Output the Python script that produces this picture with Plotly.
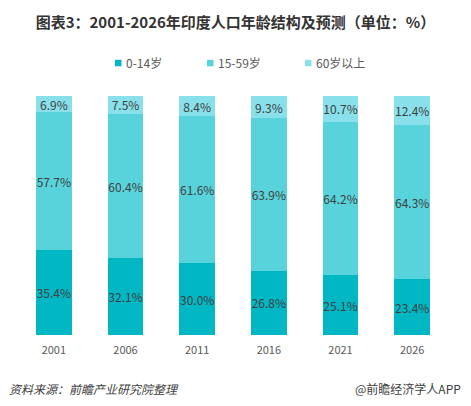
import plotly.graph_objects as go

years = ["2001", "2006", "2011", "2016", "2021", "2026"]
age_0_14 = [35.4, 32.1, 30.0, 26.8, 25.1, 23.4]
age_15_59 = [57.7, 60.4, 61.6, 63.9, 64.2, 64.3]
age_60_plus = [6.9, 7.5, 8.4, 9.3, 10.7, 12.4]
series_names = ["0-14岁", "15-59岁", "60岁以上"]
series_colors = ["#00B7C3", "#58D3DB", "#88E1EA"]

W, H = 471, 406
L, R, T, B = 18, 23, 96, 71
PW, PH = W - L - R, H - T - B

def px(x):
    return (x - L) / PW

def py(y):
    return (H - B - y) / PH

FONT = "Noto Sans CJK SC"

fig = go.Figure()
for name, vals, col in zip(series_names, [age_0_14, age_15_59, age_60_plus], series_colors):
    fig.add_trace(go.Bar(
        x=years, y=vals, name=name, marker=dict(color=col, line=dict(width=0)),
        text=[f"{v:.1f}%" for v in vals], textposition="inside",
        insidetextanchor="middle", textangle=0, constraintext="none",
        textfont=dict(family=FONT, size=12, color="#404040"),
        showlegend=False,
    ))

shapes = []
annotations = []
legend_x = [115, 207, 305]
for lx, name, col in zip(legend_x, series_names, series_colors):
    shapes.append(dict(type="rect", xref="paper", yref="paper",
                       x0=px(lx), x1=px(lx + 6.5), y0=py(66.3), y1=py(59.8),
                       fillcolor=col, line=dict(width=0)))
    annotations.append(dict(text=name, xref="paper", yref="paper",
                            x=px(lx + 8.5), y=py(63), xanchor="left", yanchor="middle",
                            showarrow=False, font=dict(family=FONT, size=12, color="#595959")))

annotations.append(dict(text="<i>资料来源：前瞻产业研究院整理</i>", xref="paper", yref="paper",
                        x=px(7), y=py(388), xanchor="left", yanchor="middle", showarrow=False,
                        font=dict(family=FONT, size=12, color="#404040")))
annotations.append(dict(text="@前瞻经济学人APP", xref="paper", yref="paper",
                        x=px(463), y=py(388), xanchor="right", yanchor="middle", showarrow=False,
                        font=dict(family=FONT, size=12, color="#404040")))

fig.update_layout(
    width=W, height=H,
    margin=dict(l=L, r=R, t=T, b=B),
    barmode="stack", bargap=0.5,
    plot_bgcolor="white", paper_bgcolor="white",
    title=dict(text="<b>图表3：2001-2026年印度人口年龄结构及预测（单位：%）</b>",
               x=0.5, xanchor="center", xref="container",
               y=1 - 23 / H, yanchor="middle", yref="container",
               font=dict(family=FONT, size=15, color="#333333")),
    xaxis=dict(type="category", showgrid=False, showline=False, zeroline=False,
               ticks="outside", ticklen=5, tickcolor="rgba(0,0,0,0)",
               tickfont=dict(family=FONT, size=11, color="#595959")),
    yaxis=dict(range=[0, 100], visible=False, fixedrange=True),
    shapes=shapes, annotations=annotations,
)

fig.write_html("out.html", config={"displayModeBar": False},
               post_script="document.body.style.margin='0';")
